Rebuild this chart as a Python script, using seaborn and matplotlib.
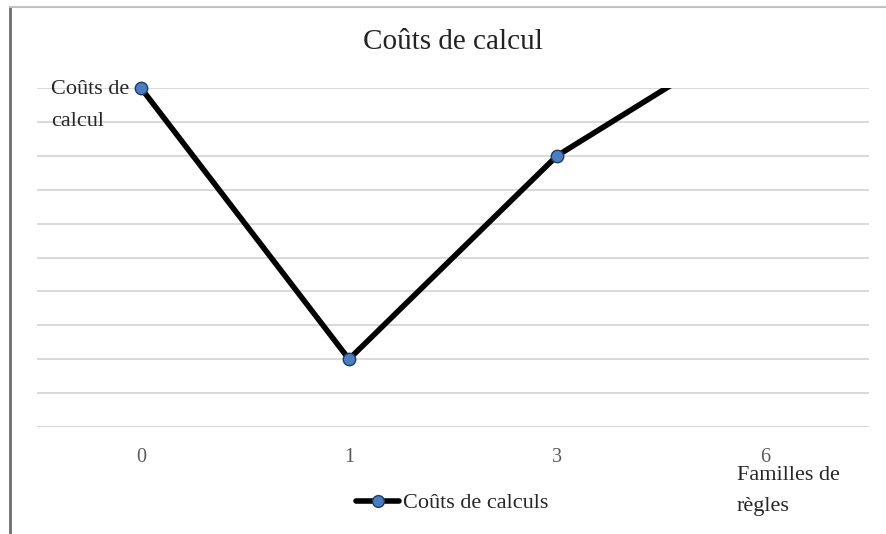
import matplotlib
matplotlib.use("Agg")
import matplotlib.pyplot as plt
from matplotlib.lines import Line2D
from matplotlib.patches import Rectangle
import seaborn as sns
import pandas as pd

# data
familles = ["0", "1", "3", "6"]
couts = [10, 2, 8, 11.8]

df = pd.DataFrame({"famille": familles, "cout": couts})

sns.set_theme(style="white")
plt.rcParams["font.family"] = ["Liberation Serif", "DejaVu Serif"]

W, H = 887, 534
fig = plt.figure(figsize=(W / 100, H / 100), dpi=100)
ax = fig.add_axes([37 / W, 1 - 427 / H, (869 - 37) / W, (427 - 88) / H])

blue = "#4A7EC0"
edge = "#1F3B63"

sns.lineplot(data=df, x="famille", y="cout", color="black", linewidth=4,
             sort=False, ax=ax, legend=False)
sns.scatterplot(data=df, x="famille", y="cout", color=blue, s=80,
                edgecolor=edge, linewidth=1.0, ax=ax, legend=False, zorder=5)
clip = Rectangle((0, -0.1), 1, 1.14, transform=ax.transAxes, visible=False)
ax.add_patch(clip)
for c in ax.collections:
    c.set_clip_path(clip)

ax.set_xlim(-0.5, 3.5)
ax.set_ylim(0, 10)
ax.set_yticks(range(0, 11))
ax.set_yticklabels([])
ax.tick_params(axis="y", length=0)
ax.tick_params(axis="x", length=0, pad=15, labelsize=14.5, labelcolor="#595959")
ax.grid(axis="y", color="#D9D9D9", linewidth=1.4)
ax.set_axisbelow(True)
for s in ax.spines.values():
    s.set_visible(False)
ax.set_xlabel("")
ax.set_ylabel("")

fig.text(453 / W, 1 - 42 / H, "Coûts de calcul", ha="center", va="center",
         fontsize=21, color="#222222")
fig.text(51 / W, 1 - 89 / H, "Coûts de", ha="left", va="center", fontsize=16)
fig.text(51 / W, 1 - 121 / H, "calcul", ha="left", va="center", fontsize=16)
fig.text(737 / W, 1 - 475 / H, "Familles de", ha="left", va="center", fontsize=16)
fig.text(737 / W, 1 - 506 / H, "règles", ha="left", va="center", fontsize=16)

handle = Line2D([], [], color="black", linewidth=4, marker="o", markersize=8.5,
                markerfacecolor=blue, markeredgecolor=edge)
fig.legend([handle], ["Coûts de calculs"], loc="center left",
           bbox_to_anchor=(356 / W, 1 - 503 / H), frameon=False, fontsize=16,
           handlelength=1.95, handletextpad=0.15, borderpad=0, borderaxespad=0)

# chart frame
fig.add_artist(Line2D([10 / W, 10 / W], [0, 1 - 7 / H], color="#6F6F6F", linewidth=2))
fig.add_artist(Line2D([10 / W, 1], [1 - 7 / H, 1 - 7 / H], color="#BFBFBF", linewidth=1.5))

fig.savefig("out.png", dpi=100)
